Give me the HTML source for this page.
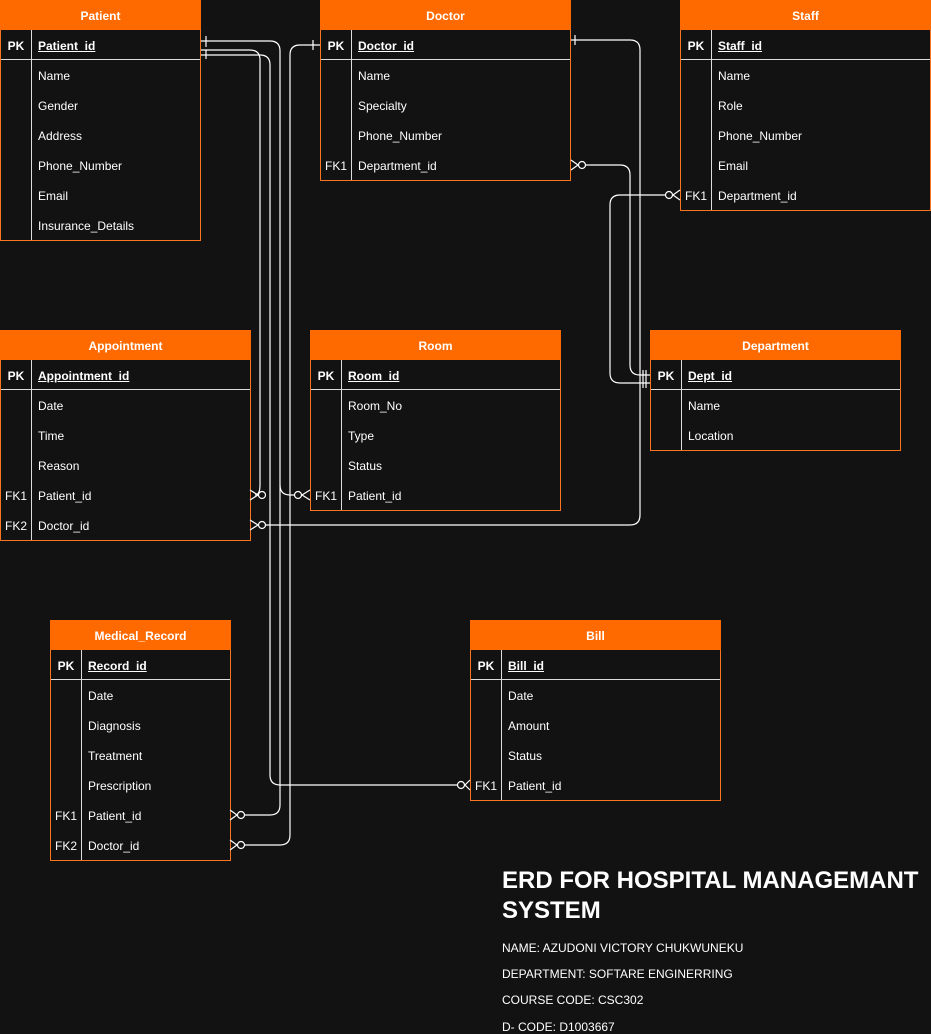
<!DOCTYPE html>
<html><head><meta charset="utf-8"><style>
body{margin:0;width:931px;height:1034px;background:#121212;position:relative;overflow:hidden;font-family:"Liberation Sans",Arial,sans-serif;color:#fff;font-size:12px}
.t{position:absolute;border:1px solid #f9751f;box-sizing:border-box;background:#121212}
.h{height:30px;line-height:32px;background:#ff6a00;text-align:center;font-weight:bold;margin:-1px -1px 0 -1px}
.r{height:30px;line-height:32px;position:relative}
.r.pk{border-bottom:1px solid #ddd;height:29px;line-height:32px}
.r.pk .n{font-weight:bold;text-decoration:underline}
.r.pk .k{font-weight:bold}
.k{position:absolute;left:0;top:0;width:30px;text-align:center;height:100%}
.kc{border-right:1px solid #ddd}
.n{position:absolute;left:37px;top:0}
.title{position:absolute;left:502px;top:866px;font-size:24px;font-weight:bold;line-height:30px}
.info{position:absolute;left:502px;font-size:12px}
svg{position:absolute;left:0;top:0}
</style></head><body>

<div class="t" style="left:0;top:0;width:201px;height:241px">
<div class="h">Patient</div>
<div class="r pk"><span class="k kc">PK</span><span class="n">Patient_id</span></div>
<div class="r"><span class="k kc"></span><span class="n">Name</span></div>
<div class="r"><span class="k kc"></span><span class="n">Gender</span></div>
<div class="r"><span class="k kc"></span><span class="n">Address</span></div>
<div class="r"><span class="k kc"></span><span class="n">Phone_Number</span></div>
<div class="r"><span class="k kc"></span><span class="n">Email</span></div>
<div class="r"><span class="k kc"></span><span class="n">Insurance_Details</span></div>
</div>

<div class="t" style="left:320px;top:0;width:251px;height:181px">
<div class="h">Doctor</div>
<div class="r pk"><span class="k kc">PK</span><span class="n">Doctor_id</span></div>
<div class="r"><span class="k kc"></span><span class="n">Name</span></div>
<div class="r"><span class="k kc"></span><span class="n">Specialty</span></div>
<div class="r"><span class="k kc"></span><span class="n">Phone_Number</span></div>
<div class="r"><span class="k kc">FK1</span><span class="n">Department_id</span></div>
</div>

<div class="t" style="left:680px;top:0;width:251px;height:211px">
<div class="h">Staff</div>
<div class="r pk"><span class="k kc">PK</span><span class="n">Staff_id</span></div>
<div class="r"><span class="k kc"></span><span class="n">Name</span></div>
<div class="r"><span class="k kc"></span><span class="n">Role</span></div>
<div class="r"><span class="k kc"></span><span class="n">Phone_Number</span></div>
<div class="r"><span class="k kc"></span><span class="n">Email</span></div>
<div class="r"><span class="k kc">FK1</span><span class="n">Department_id</span></div>
</div>

<div class="t" style="left:0;top:330px;width:251px;height:211px">
<div class="h">Appointment</div>
<div class="r pk"><span class="k kc">PK</span><span class="n">Appointment_id</span></div>
<div class="r"><span class="k kc"></span><span class="n">Date</span></div>
<div class="r"><span class="k kc"></span><span class="n">Time</span></div>
<div class="r"><span class="k kc"></span><span class="n">Reason</span></div>
<div class="r"><span class="k kc">FK1</span><span class="n">Patient_id</span></div>
<div class="r"><span class="k kc">FK2</span><span class="n">Doctor_id</span></div>
</div>

<div class="t" style="left:310px;top:330px;width:251px;height:181px">
<div class="h">Room</div>
<div class="r pk"><span class="k kc">PK</span><span class="n">Room_id</span></div>
<div class="r"><span class="k kc"></span><span class="n">Room_No</span></div>
<div class="r"><span class="k kc"></span><span class="n">Type</span></div>
<div class="r"><span class="k kc"></span><span class="n">Status</span></div>
<div class="r"><span class="k kc">FK1</span><span class="n">Patient_id</span></div>
</div>

<div class="t" style="left:650px;top:330px;width:251px;height:121px">
<div class="h">Department</div>
<div class="r pk"><span class="k kc">PK</span><span class="n">Dept_id</span></div>
<div class="r"><span class="k kc"></span><span class="n">Name</span></div>
<div class="r"><span class="k kc"></span><span class="n">Location</span></div>
</div>

<div class="t" style="left:50px;top:620px;width:181px;height:241px">
<div class="h">Medical_Record</div>
<div class="r pk"><span class="k kc">PK</span><span class="n">Record_id</span></div>
<div class="r"><span class="k kc"></span><span class="n">Date</span></div>
<div class="r"><span class="k kc"></span><span class="n">Diagnosis</span></div>
<div class="r"><span class="k kc"></span><span class="n">Treatment</span></div>
<div class="r"><span class="k kc"></span><span class="n">Prescription</span></div>
<div class="r"><span class="k kc">FK1</span><span class="n">Patient_id</span></div>
<div class="r"><span class="k kc">FK2</span><span class="n">Doctor_id</span></div>
</div>

<div class="t" style="left:470px;top:620px;width:251px;height:181px">
<div class="h">Bill</div>
<div class="r pk"><span class="k kc">PK</span><span class="n">Bill_id</span></div>
<div class="r"><span class="k kc"></span><span class="n">Date</span></div>
<div class="r"><span class="k kc"></span><span class="n">Amount</span></div>
<div class="r"><span class="k kc"></span><span class="n">Status</span></div>
<div class="r"><span class="k kc">FK1</span><span class="n">Patient_id</span></div>
</div>

<svg width="931" height="1034" fill="none" stroke="#fff" stroke-width="1.2">
<path d="M201 41 H270 Q280 41 280 51 V805 Q280 815 270 815 H238"/>
<path d="M280 485 Q280 495 290 495 H297"/>
<path d="M201 50 H250 Q260 50 260 60 V485 Q260 495 255 495"/>
<path d="M201 55 H260 Q270 55 270 65 V775 Q270 785 280 785 H458"/>
<path d="M320 45 H300 Q290 45 290 55 V835 Q290 845 280 845 H238"/>
<path d="M571 40 H630 Q640 40 640 50 V515 Q640 525 630 525 H262"/>
<path d="M585 165 H620 Q630 165 630 175 V365 Q630 375 640 375 H650"/>
<path d="M666 195 H620 Q610 195 610 205 V373 Q610 383 620 383 H650"/>
<path d="M206 36 V47 M206 50 V59 M575 35 V45 M313 40 V50 M643 370 V380 M646 370 V380 M643 378 V388 M646 378 V388"/>
<g>
<circle cx="262" cy="495" r="3.5" fill="#121212"/><path d="M250 490 L258 495 L250 500"/>
<circle cx="262" cy="525" r="3.5" fill="#121212"/><path d="M250 520 L258 525 L250 530"/>
<circle cx="298" cy="495" r="3.5" fill="#121212"/><path d="M310 490 L302 495 L310 500"/>
<circle cx="241" cy="815" r="3.5" fill="#121212"/><path d="M230 810 L237 815 L230 820"/>
<circle cx="241" cy="845" r="3.5" fill="#121212"/><path d="M230 840 L237 845 L230 850"/>
<circle cx="461" cy="785" r="3.5" fill="#121212"/><path d="M470 780 L465 785 L470 790"/>
<circle cx="582" cy="165" r="3.5" fill="#121212"/><path d="M571 160 L578 165 L571 170"/>
<circle cx="669" cy="195" r="3.5" fill="#121212"/><path d="M680 190 L673 195 L680 200"/>
</g>
</svg>

<div class="title">ERD FOR HOSPITAL MANAGEMANT<br>SYSTEM</div>
<div class="info" style="top:941px">NAME: AZUDONI VICTORY CHUKWUNEKU</div>
<div class="info" style="top:967px">DEPARTMENT: SOFTARE ENGINERRING</div>
<div class="info" style="top:993px">COURSE CODE: CSC302</div>
<div class="info" style="top:1020px">D- CODE: D1003667</div>
</body></html>
